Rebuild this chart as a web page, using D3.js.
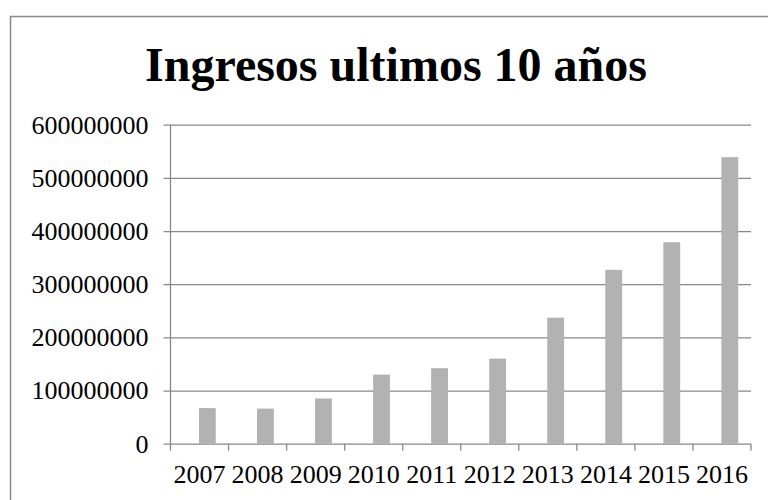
<!DOCTYPE html>
<html>
<head>
<meta charset="utf-8">
<script src="https://cdn.jsdelivr.net/npm/d3@7"></script>
<style>
	body { margin: 0; background: #fff; }
	text { font-family: "Liberation Serif", "Times New Roman", serif; fill: #000; }
</style>
</head>
<body>
<div id="chart"></div>
<script>
// Data
var years = ["2007", "2008", "2009", "2010", "2011", "2012", "2013", "2014", "2015", "2016"];
var ingresos = [67000000, 66000000, 85000000, 130000000, 142000000, 160000000, 237000000, 327000000, 379000000, 539000000];
var yTicks = [0, 100000000, 200000000, 300000000, 400000000, 500000000, 600000000];
var title = "Ingresos ultimos 10 años";

var w = 768, h = 500;
// plot edges (not "top": that name belongs to window)
var plotLeft = 170.5, plotRight = 751, plotTop = 124.7, plotBottom = 443.7;
var gridColor = "#898989";
var serif = "'Liberation Serif', 'Times New Roman', serif";

var svg = d3.select("#chart").append("svg").attr("width", w).attr("height", h);

// outer frame of the chart (runs off the right and bottom edges)
svg.append("rect")
	.attr("x", 10.5).attr("y", 16.5)
	.attr("width", 775).attr("height", 500)
	.attr("fill", "none").attr("stroke", gridColor).attr("stroke-width", 1.5);

svg.append("text")
	.attr("x", 396).attr("y", 80.5)
	.attr("text-anchor", "middle")
	.style("font-family", serif)
	.style("font-size", "48px").style("font-weight", "bold")
	.text(title);

var x = d3.scaleBand().domain(years).range([plotLeft, plotRight]);
var y = d3.scaleLinear().domain([0, 600000000]).range([plotBottom, plotTop]);

// y axis: gridlines that stick out 7px to the left as ticks
var yAxis = svg.append("g")
	.attr("transform", "translate(" + (plotLeft - 7) + ",0)")
	.call(d3.axisLeft(y).tickValues(yTicks).tickSize(-(plotRight - plotLeft + 7)).tickPadding(15).tickFormat(d3.format("d")));
yAxis.attr("font-family", serif);
yAxis.select(".domain").remove();
yAxis.selectAll("line").attr("stroke", gridColor).attr("stroke-width", 1.3);
yAxis.selectAll("text").style("font-family", serif).style("font-size", "26px").attr("fill", "#000");

// vertical axis line
svg.append("line")
	.attr("x1", x.range()[0]).attr("x2", x.range()[0])
	.attr("y1", y(600000000)).attr("y2", y(0))
	.attr("stroke", gridColor).attr("stroke-width", 1.3);

// bars, sitting in the right half of each category like the original
svg.selectAll("rect.bar").data(ingresos).enter().append("rect")
	.attr("class", "bar")
	.attr("x", function(d, i) { return x(years[i]) + x.bandwidth() * 0.49; })
	.attr("width", x.bandwidth() * 0.29)
	.attr("y", function(d) { return y(d); })
	.attr("height", function(d) { return y(0) - y(d); })
	.attr("fill", "#b2b2b2");

// x axis: labels centred, ticks on category boundaries
var xAxis = svg.append("g")
	.attr("transform", "translate(0," + y(0) + ")")
	.call(d3.axisBottom(x).tickSize(0).tickPadding(0));
xAxis.attr("font-family", serif);
xAxis.select(".domain").remove();
xAxis.selectAll("text").attr("y", 39.5).attr("dy", 0)
	.style("font-family", serif).style("font-size", "26px").attr("fill", "#000");

var bounds = years.map(function(d) { return x(d); }).concat([x.range()[1]]);
svg.selectAll("line.xtick").data(bounds).enter().append("line")
	.attr("class", "xtick")
	.attr("x1", function(d) { return d; }).attr("x2", function(d) { return d; })
	.attr("y1", y(0)).attr("y2", y(0) + 7)
	.attr("stroke", gridColor).attr("stroke-width", 1.3);
</script>
</body>
</html>
